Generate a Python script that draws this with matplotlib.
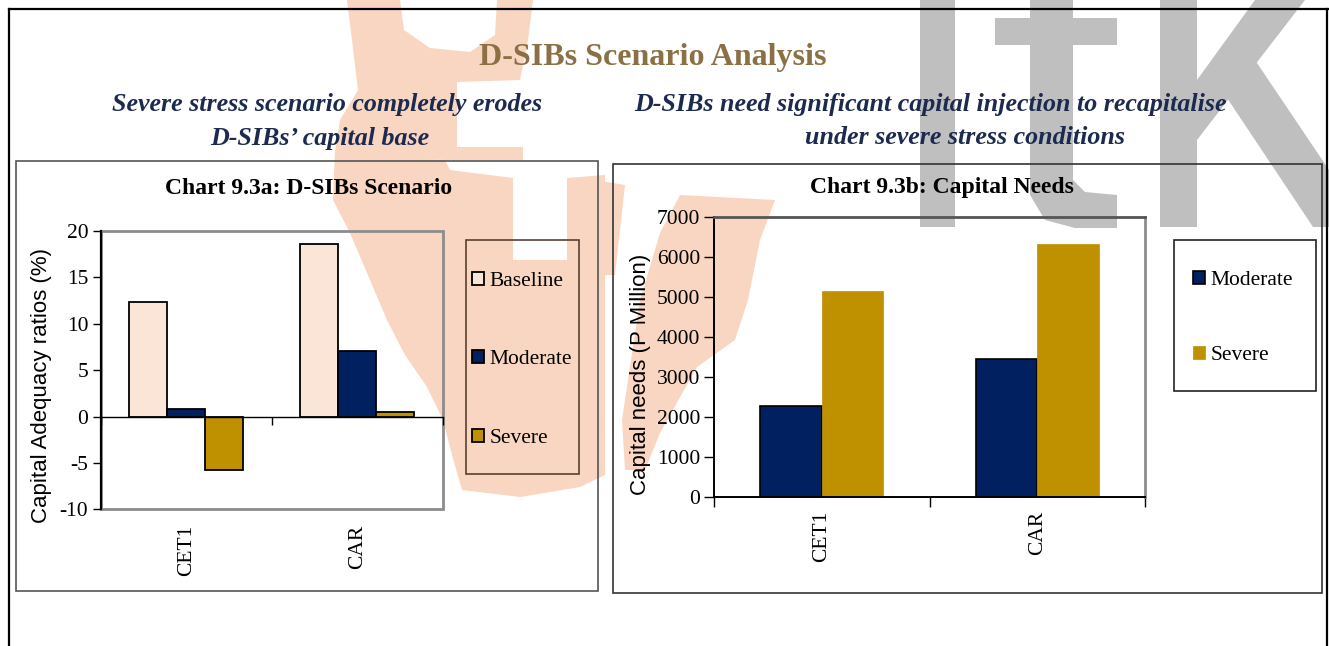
import matplotlib.pyplot as plt
from matplotlib.patches import Polygon, Rectangle
from matplotlib.lines import Line2D
import numpy as np

plt.rcParams['font.family'] = ['Liberation Serif', 'DejaVu Serif']
plt.rcParams['axes.unicode_minus'] = False

# --- data ---
categories = ["CET1", "CAR"]

# Chart 9.3a: capital adequacy ratios (%)
ratio_baseline = [12.3, 18.6]
ratio_moderate = [0.8, 7.1]
ratio_severe = [-5.8, 0.5]

# Chart 9.3b: capital needs (P Million)
needs_moderate = [2270, 3450]
needs_severe = [5140, 6310]

PEACH = "#FAE5D7"
NAVY = "#002060"
GOLD = "#BF9000"

W, H = 1329, 646
fig = plt.figure(figsize=(W / 100, H / 100), dpi=100)


def px(x, y):
    # pixel position (origin top-left) -> figure fraction
    return (x / W, 1 - y / H)


def area(x0, y0, x1, y1):
    return [x0 / W, 1 - y1 / H, (x1 - x0) / W, (y1 - y0) / H]


# --- background stamp (orange swoosh + grey letters), pixel coords ---
stamp_orange = [
    [(347, 0), (400, 0), (404, 30), (430, 48), (470, 52), (495, 35), (497, 0),
     (533, 0), (528, 40), (520, 80), (457, 82), (457, 147), (523, 147),
     (523, 160), (445, 160), (335, 152), (340, 120), (358, 90), (352, 40)],
    [(335, 150), (333, 200), (350, 233), (370, 280), (387, 320), (405, 355),
     (427, 387), (443, 420), (452, 455), (462, 490), (520, 497), (580, 487),
     (605, 475), (605, 175), (567, 178), (567, 260), (513, 260), (513, 178),
     (450, 170), (445, 160)],
    [(680, 195), (775, 200), (760, 240), (748, 300), (735, 340), (697, 367),
     (660, 433), (645, 470), (625, 470), (622, 420), (640, 300), (660, 233)],
    [(583, 178), (625, 185), (615, 275), (595, 275), (580, 230)],
]
stamp_grey = [
    [(920, 0), (955, 0), (955, 227), (920, 227)],
    [(1030, 0), (1073, 0), (1073, 18), (1117, 18), (1117, 45), (1073, 45),
     (1073, 180), (1085, 192), (1117, 195), (1117, 228), (1075, 228),
     (1045, 220), (1030, 195), (1030, 45), (995, 45), (995, 18), (1030, 18)],
    [(1160, 0), (1197, 0), (1197, 227), (1160, 227)],
    [(1197, 80), (1255, 0), (1305, 0), (1197, 140)],
    [(1225, 95), (1255, 60), (1329, 170), (1329, 227), (1313, 227)],
]
for pts in stamp_orange:
    fig.add_artist(Polygon([px(*p) for p in pts], closed=True, transform=fig.transFigure,
                           fc="#F9D6C1", ec="none", zorder=-2))
for pts in stamp_grey:
    fig.add_artist(Polygon([px(*p) for p in pts], closed=True, transform=fig.transFigure,
                           fc="#BFBFBF", ec="none", zorder=-2))

# --- page frame and chart boxes ---
fig.add_artist(Line2D([9 / W, 1328 / W], [1 - 9 / H, 1 - 9 / H], transform=fig.transFigure,
                      color="black", lw=1.6))
fig.add_artist(Line2D([9 / W, 9 / W], [0, 1 - 9 / H], transform=fig.transFigure,
                      color="black", lw=1.6))
fig.add_artist(Line2D([1327 / W, 1327 / W], [0, 1 - 9 / H], transform=fig.transFigure,
                      color="black", lw=1.6))
for (x0, y0, x1, y1), ec in [((16, 161, 598, 591), "#555555"),
                             ((613, 164, 1322, 593), "#333333")]:
    fig.add_artist(Rectangle(px(x0, y1), (x1 - x0) / W, (y1 - y0) / H, transform=fig.transFigure,
                             fill=False, ec=ec, lw=1.2))

# --- headings ---
fig.text(*px(653, 57), "D-SIBs Scenario Analysis", ha="center", va="center",
         fontsize=23, fontweight="bold", color="#8B7044")
sub = dict(ha="center", va="center", fontsize=18.7, fontweight="bold", style="italic",
           color="#1B2A4E")
fig.text(*px(327, 104), "Severe stress scenario completely erodes", **sub)
fig.text(*px(320, 138), "D-SIBs’ capital base", **sub)
fig.text(*px(930, 104), "D-SIBs need significant capital injection to recapitalise", **sub)
fig.text(*px(965, 138), "under severe stress conditions", **sub)
fig.text(*px(309, 188), "Chart 9.3a: D-SIBs Scenario", ha="center", va="center",
         fontsize=17, fontweight="bold")
fig.text(*px(942, 188), "Chart 9.3b: Capital Needs", ha="center", va="center",
         fontsize=17, fontweight="bold")

x = np.arange(len(categories))

# --- Chart 9.3a ---
ax1 = fig.add_axes(area(100.7, 231, 443, 509.3))
ax1.set_facecolor("none")
w1 = 0.222
ax1.bar(x - w1, ratio_baseline, w1, color=PEACH, edgecolor="black", lw=1.3, label="Baseline")
ax1.bar(x, ratio_moderate, w1, color=NAVY, edgecolor="black", lw=1.3, label="Moderate")
ax1.bar(x + w1, ratio_severe, w1, color=GOLD, edgecolor="black", lw=1.3, label="Severe")
ax1.set_xlim(-0.5, 1.5)
ax1.set_ylim(-10, 20)
ax1.set_yticks(range(-10, 25, 5))
ax1.tick_params(axis="y", direction="out", length=6, width=1, labelsize=15.5, pad=3)
ax1.spines["bottom"].set_position(("data", 0))
ax1.spines["bottom"].set_linewidth(1)
ax1.spines["left"].set_linewidth(1.6)
ax1.spines["top"].set_visible(False)
ax1.spines["right"].set_visible(False)
ax1.add_patch(Rectangle((0, 0), 1, 1, transform=ax1.transAxes, fill=False, ec="#8C8C8C",
                        lw=2, clip_on=False, zorder=0.5))
ax1.set_xticks([-0.5, 0.5, 1.5])
ax1.set_xticklabels([])
ax1.tick_params(axis="x", direction="out", length=6, width=1)
sec1 = ax1.secondary_xaxis(0)
sec1.set_xticks(x, categories, rotation=90, va="top")
sec1.tick_params(length=0, pad=11, labelsize=15.5)
sec1.spines["bottom"].set_visible(False)
ax1.set_ylabel("Capital Adequacy ratios (%)", fontfamily="Liberation Sans", fontsize=16)
ax1.yaxis.label.set_va("center")
ax1.yaxis.set_label_coords(-0.172, 0.445)
ax1.legend(loc="upper left", bbox_to_anchor=px(472, 272), bbox_transform=fig.transFigure,
           frameon=False, fontsize=15.5, handlelength=0.55, handleheight=0.55,
           handletextpad=0.25, borderpad=0, borderaxespad=0, labelspacing=2.75)
fig.add_artist(Rectangle(px(466, 474), 113 / W, 234 / H, transform=fig.transFigure,
                         fill=False, ec="#5A4030", lw=1.2))

# --- Chart 9.3b ---
ax2 = fig.add_axes(area(714, 216.7, 1145, 497))
ax2.set_facecolor("none")
w2 = 0.286
ax2.bar(x - w2 / 2, needs_moderate, w2, color=NAVY, edgecolor="black", lw=1.2, label="Moderate")
ax2.bar(x + w2 / 2, needs_severe, w2, color=GOLD, edgecolor=GOLD, lw=0.5, label="Severe")
ax2.set_xlim(-0.5, 1.5)
ax2.set_ylim(0, 7000)
ax2.set_yticks(range(0, 8000, 1000))
ax2.tick_params(axis="y", direction="out", length=7, width=1, labelsize=15.5, pad=3)
ax2.set_xticks(x, categories, rotation=90, va="top")
ax2.set_xticks([-0.5, 0.5, 1.5], minor=True)
ax2.tick_params(axis="x", which="major", length=0, pad=10, labelsize=15.5)
ax2.tick_params(axis="x", which="minor", direction="out", length=7, width=1)
ax2.spines["left"].set_linewidth(1.4)
ax2.spines["bottom"].set_linewidth(1.4)
ax2.spines["top"].set_color("#555555")
ax2.spines["top"].set_linewidth(2)
ax2.spines["right"].set_color("#8C8C8C")
ax2.spines["right"].set_linewidth(2)
ax2.set_ylabel("Capital needs (P Million)", fontfamily="Liberation Sans", fontsize=16)
ax2.yaxis.label.set_va("center")
ax2.yaxis.set_label_coords(-0.170, 0.439)
ax2.legend(loc="upper left", bbox_to_anchor=px(1193, 271), bbox_transform=fig.transFigure,
           frameon=False, fontsize=15.5, handlelength=0.55, handleheight=0.55,
           handletextpad=0.25, borderpad=0, borderaxespad=0, labelspacing=2.58)
fig.add_artist(Rectangle(px(1174, 391), 142 / W, 151 / H, transform=fig.transFigure,
                         fill=False, ec="#222222", lw=1.2))

fig.savefig("out.png", dpi=100)
